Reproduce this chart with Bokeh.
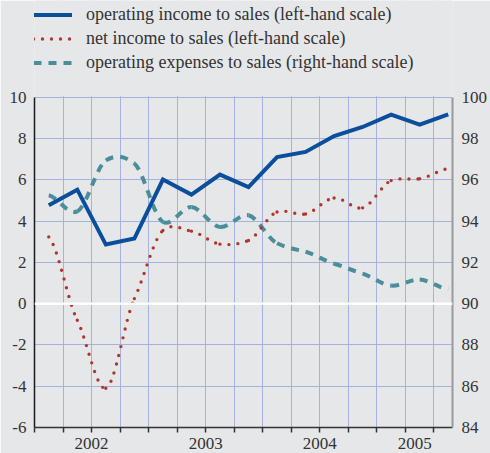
from bokeh.plotting import figure
from bokeh.models import (Range1d, LinearAxis, FixedTicker, Legend, LegendItem, Span,
                          BoxAnnotation)
from bokeh.embed import file_html
from bokeh.resources import INLINE

# ---- data (quarterly, 2002 Q1 .. 2005 Q3) ----
periods = ["2002Q1", "2002Q2", "2002Q3", "2002Q4",
           "2003Q1", "2003Q2", "2003Q3", "2003Q4",
           "2004Q1", "2004Q2", "2004Q3", "2004Q4",
           "2005Q1", "2005Q2", "2005Q3"]
op_income_to_sales = [4.77, 5.53, 2.87, 3.16, 6.02, 5.29, 6.26, 5.66,
                      7.11, 7.36, 8.13, 8.57, 9.17, 8.68, 9.18]
net_income_to_sales = [3.24, -0.8, -4.1, 0.25, 3.55, 3.52, 2.89, 3.07,
                       4.45, 4.35, 5.13, 4.65, 5.97, 6.06, 6.55]
op_expenses_to_sales = [95.26, 94.48, 96.95, 96.8, 93.97, 94.69, 93.72, 94.29,
                        92.93, 92.52, 91.94, 91.46, 90.88, 91.17, 90.71]
years = ["2002", "2003", "2004", "2005"]
left_ticks = [-6, -4, -2, 0, 2, 4, 6, 8, 10]
right_ticks = [84, 86, 88, 90, 92, 94, 96, 98, 100]
legend_labels = ["operating income to sales (left-hand scale)",
                 "net income to sales (left-hand scale)",
                 "operating expenses to sales (right-hand scale)"]

# ---- positions (x axis in quarters, 0 = start of 2002) ----
n = len(periods)
xs = [i + 0.5 for i in range(n)]
x_end = 14.65
quarter_bounds = list(range(0, 15))
year_mid = [(4 * k + min(4 * k + 4, x_end)) / 2 for k in range(len(years))]

BG = "#e6e7e9"
GRID = "#a6b2de"
TXT = "#333333"
SERIF = "'Liberation Serif', 'Times New Roman', serif"

# frame extends above the 10 line to hold the legend
Y_TOP = 14.703
p = figure(width=490, height=453, output_backend="svg", toolbar_location=None,
           x_range=Range1d(0, x_end), y_range=Range1d(-6, Y_TOP),
           min_border_left=34, min_border_right=38, min_border_top=0,
           min_border_bottom=26)
p.background_fill_color = BG
p.border_fill_color = BG
p.outline_line_color = None
p.extra_y_ranges = {"right": Range1d(84, 90 + Y_TOP)}

# grids
p.xgrid.ticker = FixedTicker(ticks=quarter_bounds[1:])
p.ygrid.ticker = FixedTicker(ticks=left_ticks)
for g in (p.xgrid, p.ygrid):
    g.grid_line_color = GRID
    g.grid_line_width = 1

# left axis
ya = p.yaxis[0]
ya.ticker = FixedTicker(ticks=left_ticks)
ya.bounds = (-6, 10)
ya.major_label_overrides = {t: str(t) for t in left_ticks}
ya.major_tick_out = 0
ya.major_tick_in = 0
ya.minor_tick_out = 0
ya.minor_tick_in = 0
ya.axis_line_color = "#1a1a1a"
ya.axis_line_width = 1.5
ya.major_label_standoff = 8
ya.major_label_text_font = SERIF
ya.major_label_text_font_size = "17px"
ya.major_label_text_color = TXT

# right axis
ra = LinearAxis(y_range_name="right", ticker=FixedTicker(ticks=right_ticks))
ra.bounds = (84, 100)
ra.major_tick_out = 0
ra.major_tick_in = 0
ra.minor_tick_out = 0
ra.minor_tick_in = 0
ra.axis_line_color = "#9a9a9a"
ra.axis_line_width = 2
ra.major_label_standoff = 9
ra.major_label_text_font = SERIF
ra.major_label_text_font_size = "17px"
ra.major_label_text_color = TXT
p.add_layout(ra, "right")

# bottom axis
xa = p.xaxis[0]
xa.ticker = FixedTicker(ticks=year_mid, minor_ticks=quarter_bounds)
xa.major_label_overrides = {float(v): y for v, y in zip(year_mid, years)}
xa.major_tick_out = 0
xa.major_tick_in = 0
xa.minor_tick_out = 5
xa.minor_tick_in = 0
xa.minor_tick_line_color = "#333333"
xa.minor_tick_line_width = 1.5
xa.axis_line_color = "#333333"
xa.axis_line_width = 1.5
xa.major_label_standoff = 5
xa.major_label_text_font = SERIF
xa.major_label_text_font_size = "17px"
xa.major_label_text_color = TXT

# zero line
p.add_layout(Span(location=0, dimension="width", line_color="white", line_width=2.5))
# cover gridlines in the legend strip above the 10 line
p.add_layout(BoxAnnotation(bottom=10.06, fill_color=BG, fill_alpha=1, line_alpha=0))


def smooth(ys, k=8.0):
    """Cardinal-spline control points through the data (drawn as Bezier segments)."""
    m = len(ys)
    x0, y0, x1, y1, cx0, cy0, cx1, cy1 = [], [], [], [], [], [], [], []
    for i in range(m - 1):
        ya_ = ys[i - 1] if i > 0 else ys[i]
        yb = ys[i + 2] if i + 2 < m else ys[i + 1]
        x0.append(xs[i]); y0.append(ys[i])
        x1.append(xs[i + 1]); y1.append(ys[i + 1])
        cx0.append(xs[i] + 1 / 3); cy0.append(ys[i] + (ys[i + 1] - ya_) / k)
        cx1.append(xs[i + 1] - 1 / 3); cy1.append(ys[i + 1] - (yb - ys[i]) / k)
    return dict(x0=x0, y0=y0, x1=x1, y1=y1, cx0=cx0, cy0=cy0, cx1=cx1, cy1=cy1)


r_exp = p.bezier(**smooth(op_expenses_to_sales), y_range_name="right",
                 line_color="#4a8e9a", line_width=4, line_dash="8 7")
r_net = p.bezier(**smooth(net_income_to_sales),
                 line_color="#b0362c", line_width=3.4, line_dash="0 9", line_cap="round")
r_op = p.line(xs, op_income_to_sales, line_color="#0b4f9c", line_width=4, line_join="miter")

legend = Legend(items=[LegendItem(label=legend_labels[0], renderers=[r_op]),
                       LegendItem(label=legend_labels[1], renderers=[r_net]),
                       LegendItem(label=legend_labels[2], renderers=[r_exp])],
                location=(-1, 354))
legend.background_fill_alpha = 0
legend.border_line_color = None
legend.padding = 0
legend.margin = 0
legend.spacing = 3
legend.glyph_width = 39
legend.glyph_height = 19
legend.label_height = 19
legend.label_standoff = 14
legend.label_text_font = SERIF
legend.label_text_font_size = "18px"
legend.label_text_color = TXT
p.add_layout(legend, "center")

open("out.html", "w").write(file_html(p, INLINE))
